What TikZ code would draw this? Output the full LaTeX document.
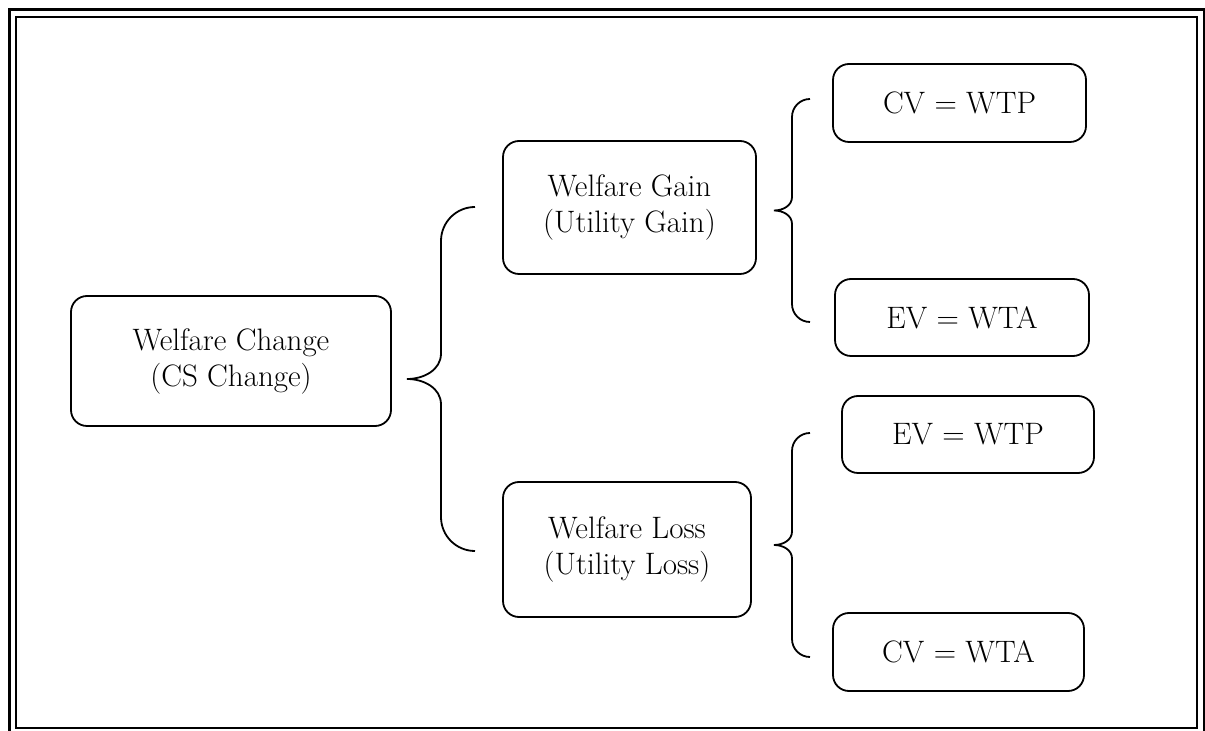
\documentclass[tikz,border=0pt]{standalone}
\usepackage{tikz}
\usetikzlibrary{calc}
\newcommand{\curly}[3]{\draw[brc] let \p1=(#1),\p2=(#2),\n1={(\y1+\y2)/2} in (\p1) to[out=180,in=90] (\x1-#3,\y1-#3) -- (\x1-#3,\n1+0.75*#3) to[out=-90,in=0] (\x1-2*#3,\n1) to[out=0,in=90] (\x1-#3,\n1-0.75*#3) -- (\x1-#3,\y2+#3) to[out=-90,in=180] (\p2);}

\begin{document}
\begin{tikzpicture}[x=1pt,y=1pt,box/.style={draw,line width=1.8pt,rounded corners=16pt,align=center,inner sep=0pt,font=\fontsize{31}{36}\selectfont},brc/.style={line width=1.8pt}]
\useasboundingbox (0,0) rectangle (1205,731);
\draw[line width=3pt] (9,-20) rectangle (1204,721); \draw[line width=2pt] (16,3) rectangle (1197,714);
\node[box,minimum width=320pt,minimum height=130pt] (change) at (231,370) {Welfare Change\\(CS Change)};
\node[box,minimum width=253pt,minimum height=133pt] (gain) at (629.5,523.5) {Welfare Gain\\(Utility Gain)};
\node[box,minimum width=248pt,minimum height=135pt] (loss) at (627,181.5) {Welfare Loss\\(Utility Loss)};
\node[box,minimum width=253pt,minimum height=78pt] (cvwtp) at (959.5,628) {CV = WTP};
\node[box,minimum width=254pt,minimum height=77pt] (evwta) at (962,413.5) {EV = WTA};
\node[box,minimum width=252pt,minimum height=77pt] (evwtp) at (968,296.5) {EV = WTP};
\node[box,minimum width=251pt,minimum height=78pt] (cvwta) at (958.5,79) {CV = WTA};
\coordinate (gt) at (475,524); \coordinate (gb) at (475,180); \curly{gt}{gb}{34}
\coordinate (ut) at (810,632); \coordinate (ub) at (810,409); \curly{ut}{ub}{18}
\coordinate (lt) at (810,298); \coordinate (lb) at (810,74); \curly{lt}{lb}{18}
\end{tikzpicture}
\end{document}
